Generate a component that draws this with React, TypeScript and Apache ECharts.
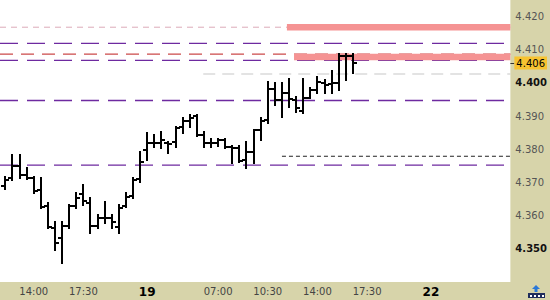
import React, { useEffect, useRef } from "react";
import * as echarts from "echarts";

// OHLC bars (30-minute bars), index = slot on the time axis
const opens = [4.3689, 4.3713, 4.3749, 4.3722, 4.3713, 4.3677, 4.3629, 4.3562, 4.3532, 4.3568,
  4.3629, 4.3665, 4.3638, 4.3568, 4.3593, 4.3593, 4.3565, 4.3629, 4.3659, 4.3710,
  4.3798, 4.3819, 4.3819, 4.3819, 4.3822, 4.3867, 4.3885, 4.3900, 4.3843, 4.3819,
  4.3819, 4.3828, 4.3807, 4.3804, 4.3767, 4.3792, 4.3858, 4.3888, 4.3981, 4.3948,
  4.3969, 4.3948, 4.3915, 4.3954, 4.3978, 4.3999, 4.3997, 4.3999, 4.4081, 4.4081];
const highs = [4.3716, 4.3782, 4.3782, 4.3743, 4.3716, 4.3713, 4.3638, 4.3580, 4.3580, 4.3632,
  4.3668, 4.3692, 4.3653, 4.3602, 4.3641, 4.3602, 4.3632, 4.3668, 4.3713, 4.3792,
  4.3849, 4.3843, 4.3852, 4.3822, 4.3867, 4.3894, 4.3903, 4.3903, 4.3852, 4.3831,
  4.3831, 4.3831, 4.3810, 4.3810, 4.3822, 4.3858, 4.3894, 4.4003, 4.3999, 4.3999,
  4.4012, 4.3957, 4.4012, 4.3984, 4.4018, 4.4009, 4.4036, 4.4087, 4.4087, 4.4087];
const lows = [4.3680, 4.3707, 4.3713, 4.3710, 4.3668, 4.3623, 4.3562, 4.3496, 4.3457, 4.3562,
  4.3623, 4.3632, 4.3547, 4.3562, 4.3577, 4.3562, 4.3547, 4.3626, 4.3653, 4.3701,
  4.3767, 4.3807, 4.3804, 4.3788, 4.3807, 4.3849, 4.3867, 4.3840, 4.3807, 4.3807,
  4.3810, 4.3804, 4.3758, 4.3761, 4.3743, 4.3758, 4.3828, 4.3879, 4.3933, 4.3897,
  4.3927, 4.3912, 4.3909, 4.3954, 4.3969, 4.3969, 4.3969, 4.3978, 4.4009, 4.4030];
const closes = [4.3707, 4.3749, 4.3722, 4.3713, 4.3674, 4.3626, 4.3565, 4.3517, 4.3568, 4.3629,
  4.3653, 4.3644, 4.3568, 4.3593, 4.3593, 4.3580, 4.3623, 4.3656, 4.3707, 4.3761,
  4.3819, 4.3819, 4.3828, 4.3816, 4.3864, 4.3885, 4.3894, 4.3843, 4.3819, 4.3819,
  4.3828, 4.3807, 4.3804, 4.3764, 4.3792, 4.3858, 4.3885, 4.3981, 4.3948, 4.3969,
  4.3951, 4.3924, 4.3954, 4.3978, 4.4003, 4.3993, 4.3999, 4.4081, 4.4081, 4.4060];

// time-axis tick labels (slot index -> text)
const tickIdx = [4, 11, 20, 30, 37, 44, 51, 60];
const tickText = ["14:00", "17:30", "19", "07:00", "10:30", "14:00", "17:30", "22"];
const boldTicks = ["19", "22"];

// horizontal levels
const purpleLevels = [4.4119, 4.4068, 4.3947, 4.3752];
const redLevel = 4.4087;
const grayLevel = 4.4027;
const grayStart = 27.9;
const blackLevel = 4.3779;
const blackStart = 39;
const zoneLevels = [4.4168, 4.4078];
const zoneStarts = [39.7, 40.7];
const lastPrice = 4.406;

const X_MIN = -0.75;
const X_MAX = 71.2;
const Y_MIN = 4.34;
const Y_MAX = 4.425;

const FONT = 'Tahoma, "DejaVu Sans", sans-serif';

function levelSeries(v: number, start: number, color: string, width: number, type: any, z = 1) {
  return {
    type: "line",
    data: [[start, v], [X_MAX, v]],
    symbol: "none",
    silent: true,
    z,
    lineStyle: { color, width, type, cap: "butt" },
  };
}

export default function App() {
  const ref = useRef<HTMLDivElement>(null);
  useEffect(() => {
    if (!ref.current) return;
    const chart = echarts.init(ref.current, undefined, { renderer: "svg" });
    const ohlc = opens.map((o, i) => [i, o, highs[i], lows[i], closes[i]]);
    const series: any[] = [];
    purpleLevels.forEach((v) => series.push(levelSeries(v, X_MIN, "#6e2aa0", 1.3, [18, 9])));
    series.push(levelSeries(redLevel, X_MIN, "#cc4a4a", 1.2, [13, 8]));
    series.push(levelSeries(grayLevel, grayStart, "#c8c8c8", 1.2, [12, 7]));
    series.push(levelSeries(blackLevel, blackStart, "#222", 1, [4, 3]));
    series.push(levelSeries(zoneLevels[0], X_MIN, "#dcaab8", 1, [6, 5]));
    zoneLevels.forEach((v, k) => series.push(levelSeries(v, zoneStarts[k], "#f59393", 6.5, "solid", 2)));
    series.push({
      type: "custom",
      data: ohlc,
      z: 5,
      encode: { x: 0, y: [1, 2, 3, 4] },
      renderItem: (params: any, api: any) => {
        const i = api.value(0);
        const pO = api.coord([i, api.value(1)]);
        const pH = api.coord([i, api.value(2)]);
        const pL = api.coord([i, api.value(3)]);
        const pC = api.coord([i, api.value(4)]);
        const x = Math.round(pH[0]);
        const t = 4;
        const style = { stroke: "#000", lineWidth: 2, fill: "none" };
        const yo = Math.round(pO[1]);
        const yc = Math.round(pC[1]);
        return {
          type: "group",
          children: [
            { type: "line", shape: { x1: x, y1: Math.round(pH[1]) - 1, x2: x, y2: Math.round(pL[1]) + 1 }, style },
            { type: "line", shape: { x1: x - t, y1: yo, x2: x, y2: yo }, style },
            { type: "line", shape: { x1: x, y1: yc, x2: x + t, y2: yc }, style },
          ],
        };
      },
    });

    chart.setOption({
      animation: false,
      backgroundColor: "#d7d4aa",
      grid: { left: 0, right: 35, top: 0, bottom: 18, show: true, backgroundColor: "#fff", borderWidth: 0 },
      xAxis: {
        type: "value",
        min: X_MIN,
        max: X_MAX,
        splitLine: { show: false },
        axisLine: { show: false },
        axisTick: { show: false },
        axisLabel: {
          customValues: tickIdx,
          margin: 4,
          fontSize: 10,
          fontFamily: FONT,
          color: "#444",
          formatter: (v: number) => {
            const k = tickIdx.indexOf(Math.round(v));
            if (k < 0) return "";
            const s = tickText[k];
            return boldTicks.includes(s) ? `{b|${s}}` : s;
          },
          rich: { b: { fontWeight: "bold", fontSize: 12, color: "#000", fontFamily: FONT } },
        },
      },
      yAxis: [
        {
          type: "value",
          position: "right",
          min: Y_MIN,
          max: Y_MAX,
          interval: 0.01,
          splitLine: { show: false },
          axisLine: { show: false },
          axisTick: { show: false },
          axisLabel: {
            showMinLabel: false,
            showMaxLabel: false,
            margin: 5,
            fontSize: 10,
            fontFamily: FONT,
            color: "#555",
            formatter: (v: number) => {
              const k = Math.round(v * 1000);
              const s = (k / 1000).toFixed(3);
              return k % 50 === 0 ? `{b|${s}}` : s;
            },
            rich: { b: { fontWeight: "bold", fontSize: 10, color: "#111", fontFamily: FONT } },
          },
        },
        {
          type: "value",
          position: "right",
          min: Y_MIN,
          max: Y_MAX,
          z: 10,
          splitLine: { show: false },
          axisLine: { show: false },
          axisTick: { show: true, customValues: [lastPrice], length: 4, lineStyle: { color: "#333", width: 1 } },
          axisLabel: {
            customValues: [lastPrice],
            margin: 4,
            fontSize: 10,
            fontFamily: FONT,
            color: "#000",
            backgroundColor: "#f7c331",
            padding: [2, 2, 1, 2],
            formatter: (v: number) => v.toFixed(3),
          },
        },
      ],
      graphic: [
        {
          type: "group",
          left: 528,
          top: 285,
          children: [
            { type: "polygon", shape: { points: [[8, 0], [12, 4], [9.5, 4], [9.5, 7], [6.5, 7], [6.5, 4], [4, 4]] }, style: { fill: "#2a78d8" } },
            { type: "rect", shape: { x: 0, y: 8, width: 17, height: 5 }, style: { fill: "#1f2d5c" } },
            { type: "rect", shape: { x: 2, y: 10, width: 2, height: 2 }, style: { fill: "#fff" } },
            { type: "rect", shape: { x: 6, y: 10, width: 2, height: 2 }, style: { fill: "#fff" } },
            { type: "rect", shape: { x: 10, y: 10, width: 2, height: 2 }, style: { fill: "#fff" } },
            { type: "rect", shape: { x: 14, y: 10, width: 2, height: 2 }, style: { fill: "#fff" } },
          ],
        },
      ],
      series,
    });
    return () => chart.dispose();
  }, []);
  return <div ref={ref} style={{ position: "fixed", left: 0, top: 0, width: 550, height: 300 }} />;
}
